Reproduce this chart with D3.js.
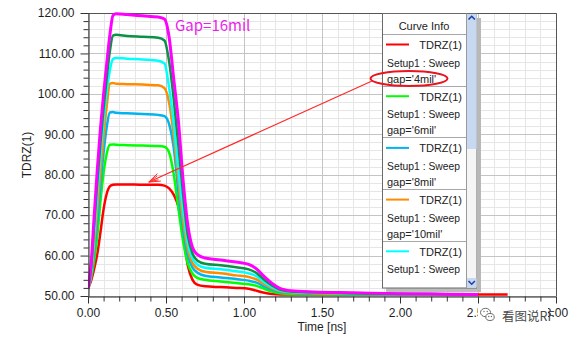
<!DOCTYPE html>
<html><head><meta charset="utf-8">
<script src="https://cdn.jsdelivr.net/npm/d3@7"></script>
<style>
html,body{margin:0;padding:0;background:#fff;}
svg{display:block;font-family:"Liberation Sans",Arial,sans-serif;}
</style></head><body>
<svg id="chart" width="572" height="342"></svg>
<script>
// Time base of the TDR sweep (ns)
const timeNs = [0, 0.02, 0.04, 0.06, 0.08, 0.10, 0.12, 0.14, 0.16, 0.18, 0.25, 0.35, 0.45, 0.49, 0.52, 0.55, 0.58, 0.61, 0.64, 0.67, 0.70, 0.75, 0.85, 0.95, 1.03, 1.08, 1.13, 1.18, 1.23, 1.30, 1.45, 1.70, 2.00, 2.30, 2.50, 2.69];

// TDRZ(1) in ohms for each gap value of the sweep
const tdrzGap4  = [51.8, 53.8, 56.8, 60.5, 65.8, 71.5, 75.3, 77.1, 77.5, 77.6, 77.6, 77.5, 77.5, 77.3, 76.6, 75.0, 72.0, 65.0, 57.5, 54.0, 52.8, 52.4, 52.2, 52.0, 51.8, 51.3, 50.8, 50.5, 50.4, 50.4, 50.4, 50.4, 50.4, 50.4, 50.4, 50.4];
const tdrzGap6  = [51.8, 54.5, 59.0, 65.0, 73.5, 80.5, 85.2, 87.4, 87.5, 87.4, 87.3, 87.2, 87.1, 86.9, 85.5, 80.0, 71.5, 63.5, 58.0, 55.5, 54.5, 54.0, 53.6, 53.2, 52.9, 52.5, 51.8, 51.1, 50.7, 50.5, 50.45, 50.4, 50.4, 50.4, 50.4, null];
const tdrzGap8  = [51.8, 55.0, 61.0, 68.5, 77.5, 85.5, 91.8, 95.4, 95.5, 95.3, 95.2, 95.0, 94.8, 94.5, 92.5, 86.5, 75.5, 66.5, 60.0, 57.0, 55.8, 55.0, 54.6, 54.2, 53.8, 53.3, 52.4, 51.6, 51.0, 50.8, 50.6, 50.5, 50.45, 50.4, 50.4, null];
const tdrzGap10 = [51.8, 55.5, 63.0, 72.0, 81.0, 89.5, 97.0, 102.5, 102.7, 102.5, 102.4, 102.3, 102.1, 101.4, 97.8, 89.5, 78.5, 68.5, 61.5, 58.2, 56.8, 56.0, 55.6, 55.1, 54.7, 54.1, 52.9, 51.9, 51.2, 50.9, 50.7, 50.6, 50.5, 50.4, 50.4, null];
const tdrzGap12 = [51.8, 56.0, 65.5, 75.5, 85.0, 93.5, 100.5, 105.8, 108.6, 108.9, 108.7, 108.5, 108.2, 107.5, 101.5, 92.5, 81.0, 71.0, 63.0, 59.3, 57.8, 57.0, 56.6, 56.1, 55.6, 54.9, 53.4, 52.2, 51.4, 51.0, 50.8, 50.6, 50.5, 50.45, 50.4, null];
const tdrzGap14 = [51.8, 57.0, 68.0, 78.5, 88.0, 96.5, 104.0, 110.5, 114.4, 114.6, 114.3, 114.1, 113.9, 113.2, 108.0, 98.5, 87.0, 75.0, 65.0, 60.5, 58.8, 58.0, 57.6, 57.1, 56.6, 55.7, 54.0, 52.6, 51.6, 51.1, 50.9, 50.7, 50.5, 50.45, 50.4, null];
const tdrzGap16 = [51.8, 58.0, 70.0, 81.5, 91.5, 100.0, 107.5, 114.5, 119.4, 119.8, 119.6, 119.3, 119.0, 118.5, 114.0, 103.5, 93.0, 78.5, 67.5, 62.0, 60.3, 59.4, 58.9, 58.4, 57.8, 56.7, 54.8, 53.1, 51.9, 51.3, 51.0, 50.8, 50.55, 50.45, 50.4, null];

const gapLabels = ["4mil", "6mil", "8mil", "10mil", "12mil", "14mil", "16mil"];
const seriesColors = ["#ff0000", "#00ff00", "#00b4f0", "#ff8c00", "#00ffff", "#0a9146", "#ff00ff"];
const seriesValues = [tdrzGap4, tdrzGap6, tdrzGap8, tdrzGap10, tdrzGap12, tdrzGap14, tdrzGap16];

const xTicks = [0, 0.5, 1.0, 1.5, 2.0, 2.5, 3.0];
const yTicks = [50, 60, 70, 80, 90, 100, 110, 120];
const xMinorStep = 0.1;
const yMinorStep = 2;

const svg = d3.select("#chart");
const plotLeft = 88, plotRight = 556, plotTop = 13, plotBottom = 296;

const x = d3.scaleLinear().domain([0, 3]).range([plotLeft, plotRight]);
const y = d3.scaleLinear().domain([50, 120]).range([plotBottom, plotTop]);

const xMinor = d3.range(0, 3.0001, xMinorStep).map(v => +v.toFixed(2));
const yMinor = d3.range(50, 120.001, yMinorStep);

// grid
const grid = svg.append("g");
grid.selectAll(".vmin").data(xMinor).join("line")
  .attr("x1", d => Math.round(x(d)) + 0.5).attr("x2", d => Math.round(x(d)) + 0.5)
  .attr("y1", plotTop).attr("y2", plotBottom).attr("stroke", "#e6e6e6");
grid.selectAll(".hmin").data(yMinor).join("line")
  .attr("y1", d => Math.round(y(d)) + 0.5).attr("y2", d => Math.round(y(d)) + 0.5)
  .attr("x1", plotLeft).attr("x2", plotRight).attr("stroke", "#e6e6e6");
grid.selectAll(".vmaj").data(xTicks).join("line")
  .attr("x1", d => Math.round(x(d)) + 0.5).attr("x2", d => Math.round(x(d)) + 0.5)
  .attr("y1", plotTop).attr("y2", plotBottom).attr("stroke", "#c4c4c4");
grid.selectAll(".hmaj").data(yTicks).join("line")
  .attr("y1", d => Math.round(y(d)) + 0.5).attr("y2", d => Math.round(y(d)) + 0.5)
  .attr("x1", plotLeft).attr("x2", plotRight).attr("stroke", "#c4c4c4");

// plot frame (top / right)
svg.append("path")
  .attr("d", `M${plotLeft},${plotTop + 0.5}H${plotRight + 0.5}V${plotBottom}`)
  .attr("fill", "none").attr("stroke", "#555");

// curves
svg.append("clipPath").attr("id", "plotClip").append("rect")
  .attr("x", plotLeft).attr("y", plotTop - 2).attr("width", plotRight - plotLeft).attr("height", plotBottom - plotTop + 2);
const line = d3.line()
  .defined(d => d[1] != null)
  .x(d => x(d[0])).y(d => y(d[1]))
  .curve(d3.curveMonotoneX);
const curves = svg.append("g").attr("clip-path", "url(#plotClip)");
seriesValues.forEach((vals, i) => {
  curves.append("path")
    .datum(timeNs.map((t, k) => [t, vals[k]]))
    .attr("d", line)
    .attr("fill", "none")
    .attr("stroke", seriesColors[i])
    .attr("stroke-width", i === 6 ? 3 : 2.5)
    .attr("stroke-linejoin", "round");
});

// axes
const fmt = d3.format(".2f");
const yAxis = svg.append("g").attr("transform", `translate(${plotLeft + 0.5},0)`)
  .call(d3.axisLeft(y).tickValues(yTicks).tickFormat(fmt).tickSize(8).tickPadding(6).tickSizeOuter(0));
svg.append("g").attr("transform", `translate(${plotLeft + 0.5},0)`)
  .call(d3.axisLeft(y).tickValues(yMinor.filter(v => v % 10 !== 0)).tickFormat("").tickSize(5).tickSizeOuter(0))
  .select(".domain").remove();
const xAxis = svg.append("g").attr("transform", `translate(0,${plotBottom + 0.5})`)
  .call(d3.axisBottom(x).tickValues(xTicks).tickFormat(fmt).tickSize(7).tickPadding(5).tickSizeOuter(0));
svg.append("g").attr("transform", `translate(0,${plotBottom + 0.5})`)
  .call(d3.axisBottom(x).tickValues(xMinor.filter(v => Math.abs(v * 2 - Math.round(v * 2)) > 1e-6)).tickFormat("").tickSize(5).tickSizeOuter(0))
  .select(".domain").remove();
svg.selectAll(".domain").attr("stroke", "#222");
svg.selectAll(".tick line").attr("stroke", "#333");
[yAxis, xAxis].forEach(a => a.selectAll("text")
  .attr("font-size", 12).attr("fill", "#1e1e1e")
  .attr("font-family", "'Liberation Sans', Arial, sans-serif"));

// axis titles
svg.append("text").attr("transform", "translate(27,155) rotate(-90)")
  .attr("text-anchor", "middle").attr("dominant-baseline", "central")
  .attr("font-size", 12).attr("fill", "#1e1e1e").text("TDRZ(1)");
svg.append("text").attr("x", (plotLeft + plotRight) / 2).attr("y", 331)
  .attr("text-anchor", "middle").attr("font-size", 12).attr("fill", "#1e1e1e").text("Time [ns]");

// annotation for widest gap
svg.append("text").attr("x", 175).attr("y", 31)
  .attr("font-family", "'Noto Sans CJK SC','Noto Sans',sans-serif")
  .attr("font-size", 15).attr("fill", "#ea1eea").text("Gap=16mil");

// legend panel
const lg = svg.append("g");
lg.append("rect").attr("x", 386).attr("y", 288).attr("width", 95).attr("height", 4).attr("fill", "#bdbdbd");
lg.append("rect").attr("x", 477).attr("y", 18).attr("width", 4).attr("height", 274).attr("fill", "#b8b8b8");
lg.append("rect").attr("x", 382.5).attr("y", 13.5).attr("width", 94).attr("height", 274.5)
  .attr("fill", "#fff").attr("stroke", "#6a6a6a");
// scrollbar
lg.append("rect").attr("x", 466.5).attr("y", 14).attr("width", 10).attr("height", 273.5).attr("fill", "#f5f5f5");
lg.append("rect").attr("x", 467).attr("y", 14).attr("width", 9.5).attr("height", 135).attr("fill", "#c8d8f0");
lg.append("rect").attr("x", 467).attr("y", 278).attr("width", 9.5).attr("height", 9.5).attr("fill", "#c8d8f0");
lg.append("line").attr("x1", 466.5).attr("x2", 466.5).attr("y1", 13.5).attr("y2", 288).attr("stroke", "#9a9a9a");
lg.append("path").attr("d", "M468.5,19.5L471.7,16.3L474.9,19.5").attr("fill", "none").attr("stroke", "#1f3fa8").attr("stroke-width", 1.6);
lg.append("path").attr("d", "M468.5,281L471.7,284.2L474.9,281").attr("fill", "none").attr("stroke", "#1f3fa8").attr("stroke-width", 1.6);

lg.append("text").attr("x", 424).attr("y", 26).attr("text-anchor", "middle").attr("dominant-baseline", "central")
  .attr("font-size", 11).attr("fill", "#222").text("Curve Info");
lg.append("line").attr("x1", 383).attr("x2", 466).attr("y1", 34.5).attr("y2", 34.5).attr("stroke", "#a8a8a8");

// rows of the scrolled list; only the rows inside the visible viewport are drawn
const viewBottom = 279;
const step = 51.7;
const entries = lg.append("g");
gapLabels.forEach((g, i) => {
  const b = 34 + step * i;
  if (b + 10.5 > viewBottom) return;
  entries.append("line").attr("x1", 386).attr("x2", 409).attr("y1", b + 10.5).attr("y2", b + 10.5)
    .attr("stroke", seriesColors[i]).attr("stroke-width", 2);
  entries.append("text").attr("x", 462).attr("y", b + 11).attr("text-anchor", "end").attr("dominant-baseline", "central")
    .attr("font-size", 11).attr("fill", "#222").text("TDRZ(1)");
  if (b + 28.5 < viewBottom)
    entries.append("text").attr("x", 387).attr("y", b + 28.5).attr("dominant-baseline", "central")
      .attr("font-size", 11).attr("fill", "#222").attr("textLength", 73).attr("lengthAdjust", "spacingAndGlyphs")
      .text("Setup1 : Sweep");
  if (b + 44.5 < viewBottom)
    entries.append("text").attr("x", 387).attr("y", b + 44.5).attr("dominant-baseline", "central")
      .attr("font-size", 11).attr("fill", "#222").text(`gap='${g}'`);
  if (b + step < viewBottom)
    entries.append("line").attr("x1", 383).attr("x2", 466).attr("y1", Math.round(b + step) + 0.5).attr("y2", Math.round(b + step) + 0.5)
      .attr("stroke", "#a8a8a8");
});

// highlight around the 4mil entry and arrow to its curve
svg.append("ellipse").attr("cx", 409).attr("cy", 78.5).attr("rx", 38.5).attr("ry", 7.5)
  .attr("fill", "none").attr("stroke", "#e8141e").attr("stroke-width", 2);
const tip = [x(0.39), y(78.2)], tail = [372, 81];
svg.append("line").attr("x1", tail[0]).attr("y1", tail[1]).attr("x2", tip[0]).attr("y2", tip[1])
  .attr("stroke", "#ff2a2a").attr("stroke-width", 1.2);
const ang = Math.atan2(tail[1] - tip[1], tail[0] - tip[0]);
[0.35, -0.35, 0.2, -0.2].forEach(da => {
  const len = Math.abs(da) > 0.3 ? 12 : 10;
  svg.append("line").attr("x1", tip[0]).attr("y1", tip[1])
    .attr("x2", tip[0] + len * Math.cos(ang + da)).attr("y2", tip[1] + len * Math.sin(ang + da))
    .attr("stroke", "#ff2a2a").attr("stroke-width", 1);
});

// account badge
const wm = svg.append("g");
wm.append("rect").attr("x", 478).attr("y", 305).attr("width", 70).attr("height", 18).attr("fill", "#fff");
wm.append("ellipse").attr("cx", 485.5).attr("cy", 312.5).attr("rx", 5).attr("ry", 4.2)
  .attr("fill", "#fff").attr("stroke", "#6a6a6a").attr("stroke-width", 1);
wm.append("ellipse").attr("cx", 490).attr("cy", 317).attr("rx", 4.2).attr("ry", 3.5)
  .attr("fill", "#fff").attr("stroke", "#6a6a6a").attr("stroke-width", 1);
[[484, 311.5], [487.2, 311.5], [488.8, 316.5], [491.4, 316.5]].forEach(p =>
  wm.append("circle").attr("cx", p[0]).attr("cy", p[1]).attr("r", 0.7).attr("fill", "#6a6a6a"));
wm.append("text").attr("x", 502).attr("y", 315).attr("dominant-baseline", "central")
  .attr("font-family", "'Noto Sans CJK SC',sans-serif").attr("font-size", 12.5).attr("fill", "#4a4a4a")
  .text("看图说RF");
</script>
</body></html>
